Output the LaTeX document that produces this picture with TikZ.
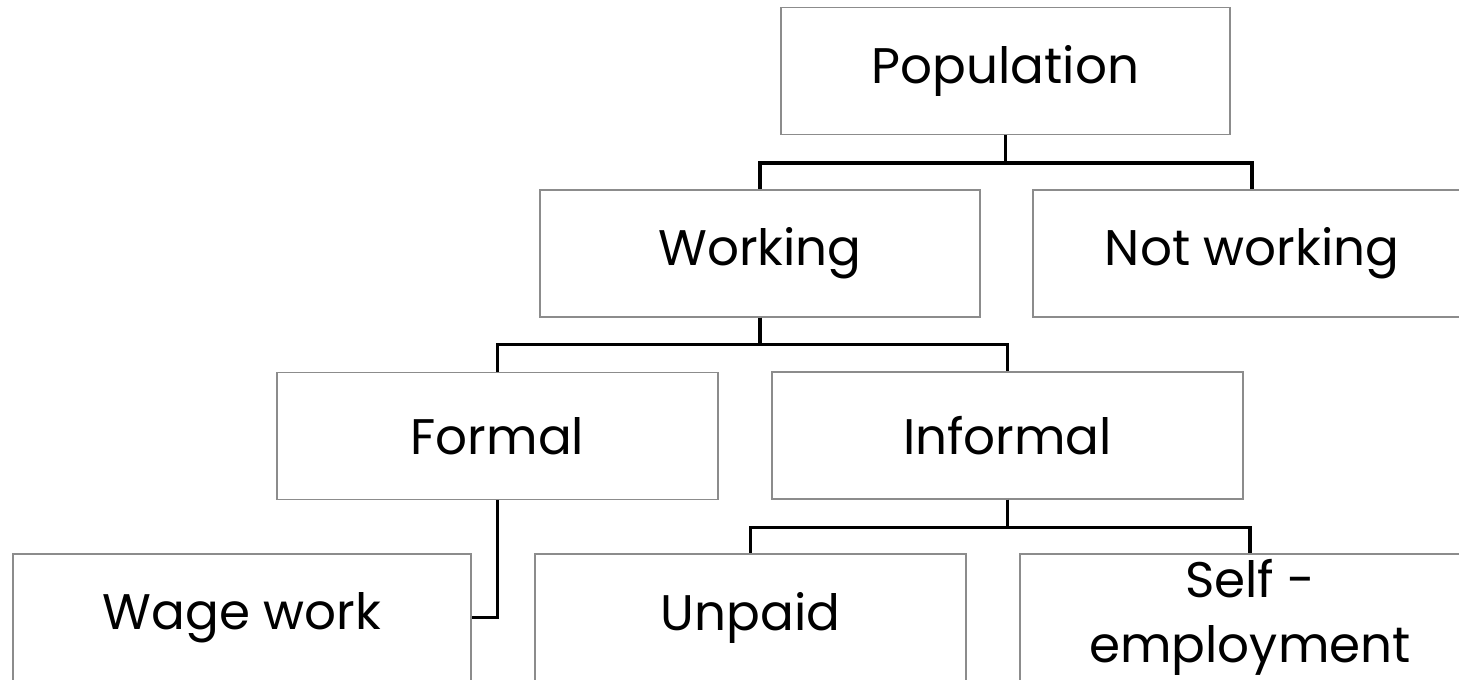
\documentclass[tikz,border=0pt]{standalone}
\usepackage{fontspec}
\setmainfont{Poppins}
\usetikzlibrary{positioning}
\tikzset{box node/.style={rectangle, draw=black!45, line width=0.6pt, minimum height=63.5pt, inner sep=2pt, font=\fontsize{25}{32.5}\selectfont, align=center},
link/.style={draw=black, line width=1.7pt},}

\begin{document}
\begin{tikzpicture}[x=0.5pt, y=-0.5pt]
        \useasboundingbox (0,0) rectangle (1459,679);
        \clip (0,0) rectangle (1459,679);
        % Top
        \node[box node, minimum width=224.5pt] (pop) at (1005.5,71) {Population};
        % Working or not
        \node[box node, minimum width=220pt] (work) at (760,253.5) {Working};
        \node[box node, minimum width=219pt] (notwork) at (1252,253.5) {Not working};
        % Formal / informal
        \node[box node, minimum width=220.5pt] (formal) at (497.5,436) {Formal};
        \node[box node, minimum width=235.5pt] (informal) at (1007.5,435.5) {Informal};
        % Kinds of work
        \node[box node, minimum width=229pt] (wage) at (242,617.5) {Wage work};
        \node[box node, minimum width=215.5pt] (unpaid) at (750.5,617.5) {Unpaid};
        \node[box node, minimum width=230pt] (self) at (1250,617.5) {Self -\\employment};
        % Links
        \draw[link] (pop.south) -- ++(0,-14pt) -| (work.north);
        \draw[link] (pop.south) -- ++(0,-14pt) -| (notwork.north);
        \draw[link] (work.south) -- ++(0,-13.5pt) -| (formal.north);
        \draw[link] (work.south) -- ++(0,-13.5pt) -| (informal.north);
        \draw[link] (formal.south) |- (wage.east);
        \draw[link] (informal.south) -- ++(0,-14pt) -| (unpaid.north);
        \draw[link] (informal.south) -- ++(0,-14pt) -| (self.north);
\end{tikzpicture}
\end{document}
